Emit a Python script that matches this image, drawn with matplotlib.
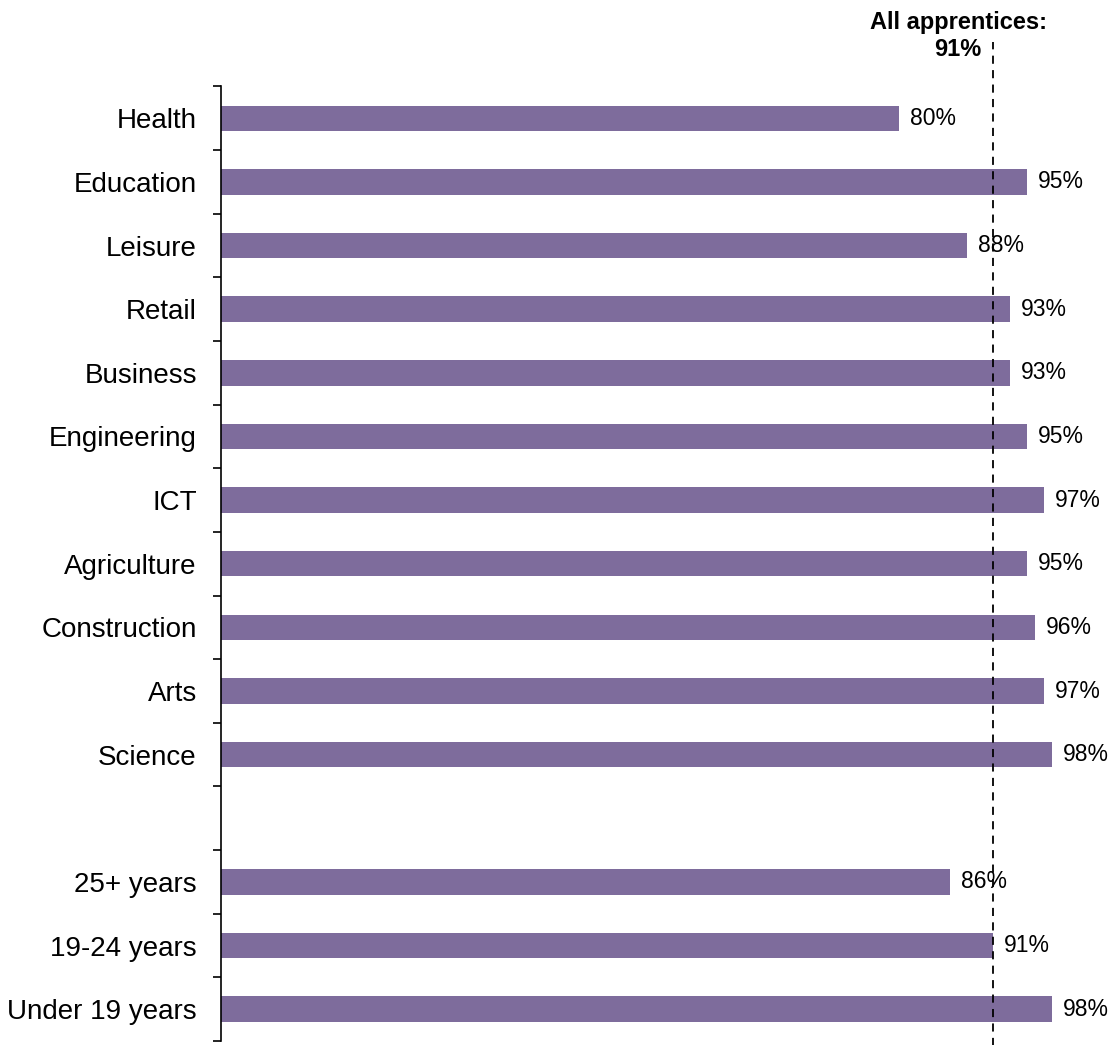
import matplotlib
matplotlib.use("Agg")
import matplotlib.pyplot as plt
import numpy as np

plt.rcParams['font.family'] = ['Liberation Sans', 'DejaVu Sans']

categories = ["Health", "Education", "Leisure", "Retail", "Business", "Engineering",
              "ICT", "Agriculture", "Construction", "Arts", "Science", "",
              "25+ years", "19-24 years", "Under 19 years"]
values = [80, 95, 88, 93, 93, 95, 97, 95, 96, 97, 98, None, 86, 91, 98]
overall_value = 91
overall_label = "All apprentices:\n91%"

W, H = 1115, 1045
fig = plt.figure(figsize=(W / 100, H / 100), dpi=100)
left_px, right_px = 220.5, 1094.5
top_px, bot_px = 86.5, 1041
ax = fig.add_axes([left_px / W, (H - bot_px) / H, (right_px - left_px) / W, (bot_px - top_px) / H])

bar_color = "#7E6C9C"
n = len(categories)
pos = np.arange(n)
for p, v in zip(pos, values):
    if v is None:
        continue
    ax.barh(p, v, height=0.4, color=bar_color, zorder=2)
    ax.text(v + 1.3, p, f"{v}%", va="center", ha="left", fontsize=16.5, color="black", zorder=4)

ax.set_xlim(0, 103)
ax.set_ylim(n - 0.5, -0.5)

ax.axvline(overall_value, ymin=-0.005, ymax=1.047, color="black", lw=1.3,
           linestyle=(0, (4.5, 3.5)), clip_on=False, zorder=3)

ax.text(958 / W, 1 - 11 / H, overall_label, transform=fig.transFigure,
        ha="center", va="top", fontsize=17, fontweight="bold", linespacing=1.25)

for s in ["top", "right", "bottom"]:
    ax.spines[s].set_visible(False)
ax.spines["left"].set_linewidth(1.2)
ax.set_xticks([])
ax.set_yticks(pos)
ax.set_yticklabels(categories, fontsize=20)
ax.tick_params(axis="y", which="major", length=0, pad=17)
ax.set_yticks(np.arange(-0.5, n, 1.0), minor=True)
ax.tick_params(axis="y", which="minor", length=6, width=1.2, direction="out")

fig.savefig("out.png", dpi=100)
